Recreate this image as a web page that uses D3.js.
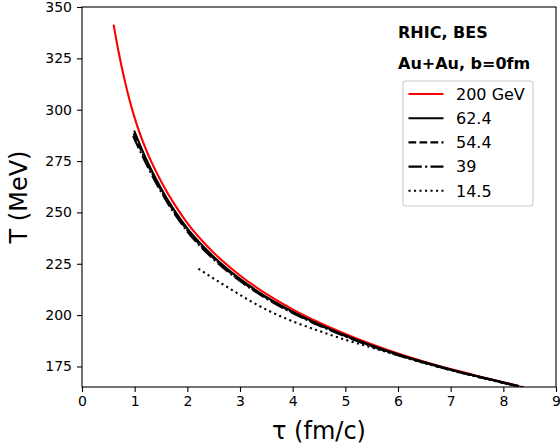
<!DOCTYPE html>
<html>
<head>
<meta charset="utf-8">
<script src="https://cdn.jsdelivr.net/npm/d3@7"></script>
<style>
  body { margin: 0; background: #fff; }
  svg text { font-family: "DejaVu Sans", sans-serif; fill: #000; }
</style>
</head>
<body>
<div id="vis"></div>
<script>
// tau (fm/c) and T (MeV)
const tau200 = [0.6, 0.7, 0.8, 0.9, 1.0, 1.2, 1.5, 1.8, 2.0, 2.5, 3.0, 3.5, 4.0, 4.5, 5.0, 5.5, 6.0, 6.5, 7.0, 7.5, 8.0, 8.3]
const T200   = [341.4, 327.5, 315.5, 305, 296, 281.5, 265.2, 252.2, 244.8, 230.4, 219.3, 210.3, 202.8, 196.4, 190.8, 185.8, 181.3, 177.3, 173.7, 170.4, 167.3, 165.5]

const tau624 = [0.99, 1.2, 1.5, 2.0, 2.5, 3.0, 3.5, 4.0, 5.0, 6.0, 7.0, 8.0, 8.3]
const T624   = [289.8, 277, 261.8, 242.2, 228.4, 217.6, 208.9, 201.7, 190.1, 180.9, 173.5, 167.2, 165.3]

const tau544 = [0.98, 1.2, 1.5, 2.0, 2.5, 3.0, 3.5, 4.0, 5.0, 6.0, 7.0, 8.0, 8.3]
const T544   = [288.5, 275.8, 260.8, 241.3, 227.7, 217.0, 208.4, 201.3, 189.8, 180.7, 173.4, 167.1, 165.2]

const tau39 = [0.97, 1.2, 1.5, 2.0, 2.5, 3.0, 3.5, 4.0, 5.0, 6.0, 7.0, 8.0, 8.35]
const T39   = [287.2, 274.6, 260.0, 240.7, 227.2, 216.6, 208.0, 201.0, 189.6, 180.5, 173.3, 167.0, 165.0]

const tau145 = [2.21, 2.5, 2.82, 3.2, 3.61, 4.0, 4.5, 5.0, 5.5, 6.0, 6.5, 7.0, 7.5, 8.0, 8.4]
const T145   = [222.6, 217.8, 212.7, 206.8, 201.3, 197.0, 192.3, 188.0, 184.2, 180.4, 176.6, 173.2, 170.0, 167.0, 164.8]

const legendLabels = ['200 GeV', '62.4', '54.4', '39', '14.5']
const xTicks = [0, 1, 2, 3, 4, 5, 6, 7, 8, 9]
const yTicks = [175, 200, 225, 250, 275, 300, 325, 350]

const W = 560, H = 448
const margin = { left: 82, top: 7, right: 4, bottom: 61 }
const width = W - margin.left - margin.right
const height = H - margin.top - margin.bottom

const series = [
  { name: legendLabels[0], tau: tau200, T: T200, color: '#ff0000', dash: null },
  { name: legendLabels[1], tau: tau624, T: T624, color: '#000', dash: null },
  { name: legendLabels[2], tau: tau544, T: T544, color: '#000', dash: '7.7,3.3' },
  { name: legendLabels[3], tau: tau39, T: T39, color: '#000', dash: '13.3,3.3,2.1,3.3' },
  { name: legendLabels[4], tau: tau145, T: T145, color: '#000', dash: '2.1,3.4' }
]

const svg = d3.select('#vis').append('svg')
  .attr('width', W)
  .attr('height', H)

const g = svg.append('g').attr('transform', `translate(${margin.left},${margin.top})`)

const x = d3.scaleLinear().domain([0, 9]).range([0, width])
const y = d3.scaleLinear().domain([165, 350]).range([height, 0])

g.append('clipPath').attr('id', 'clip')
  .append('rect').attr('width', width).attr('height', height)

const line = d3.line()
  .x(d => x(d[0]))
  .y(d => y(d[1]))
  .curve(d3.curveMonotoneX)

const plot = g.append('g').attr('clip-path', 'url(#clip)')
series.forEach(s => {
  plot.append('path')
    .datum(d3.zip(s.tau, s.T))
    .attr('d', line)
    .attr('fill', 'none')
    .attr('stroke', s.color)
    .attr('stroke-width', 2.1)
    .attr('stroke-dasharray', s.dash)
})

// axes
const xAxis = g.append('g')
  .attr('transform', `translate(0,${height})`)
  .call(d3.axisBottom(x).tickValues(xTicks).tickSize(5).tickPadding(4).tickFormat(d3.format('d')))
const yAxis = g.append('g')
  .call(d3.axisLeft(y).tickValues(yTicks).tickSize(5).tickPadding(5).tickFormat(d3.format('d')))

;[xAxis, yAxis].forEach(a => {
  a.select('.domain').remove()
  a.selectAll('.tick line').attr('stroke', '#000').attr('stroke-width', 1.1)
  a.selectAll('.tick text').attr('font-size', 14).attr('font-family', '"DejaVu Sans", sans-serif')
})

g.append('rect')
  .attr('width', width).attr('height', height)
  .attr('fill', 'none').attr('stroke', '#000').attr('stroke-width', 1.1)

// axis labels
svg.append('text')
  .attr('x', margin.left + width / 2).attr('y', 439)
  .attr('text-anchor', 'middle').attr('font-size', 24)
  .text('τ (fm/c)')

svg.append('text')
  .attr('transform', `translate(27,${margin.top + height / 2}) rotate(-90)`)
  .attr('text-anchor', 'middle').attr('font-size', 24)
  .text('T (MeV)')

// annotations
svg.append('text').attr('x', 398).attr('y', 38).attr('font-size', 16).attr('font-weight', 'bold').text('RHIC, BES')
svg.append('text').attr('x', 398).attr('y', 69).attr('font-size', 16).attr('font-weight', 'bold').text('Au+Au, b=0fm')

// legend
const leg = svg.append('g').attr('transform', 'translate(403,81)')
leg.append('rect')
  .attr('width', 130).attr('height', 125).attr('rx', 3)
  .attr('fill', '#fff').attr('fill-opacity', 0.8)
  .attr('stroke', '#cccccc').attr('stroke-width', 1.1)

series.forEach((s, i) => {
  const ly = 13 + i * 24.2
  leg.append('line')
    .attr('x1', 5.5).attr('x2', 40.5).attr('y1', ly).attr('y2', ly)
    .attr('stroke', s.color).attr('stroke-width', 2.1)
    .attr('stroke-dasharray', s.dash)
  leg.append('text')
    .attr('x', 53).attr('y', ly + 5.8)
    .attr('font-size', 16)
    .text(s.name)
})
</script>
</body>
</html>
